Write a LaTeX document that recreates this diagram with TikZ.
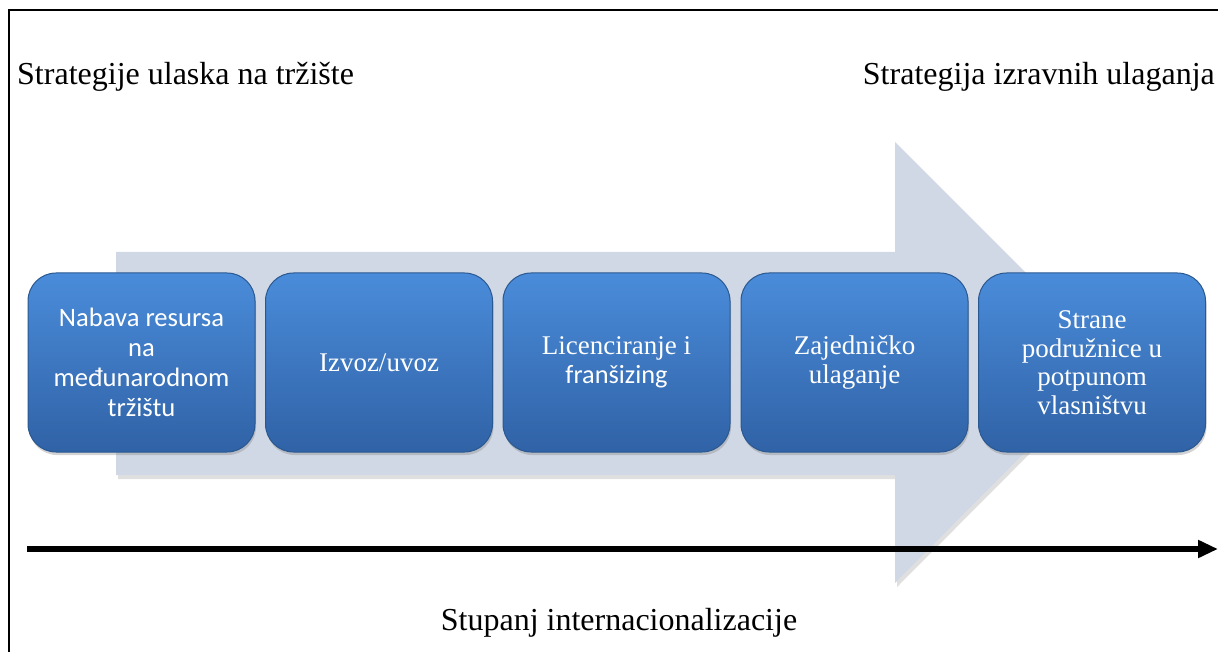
\documentclass[tikz,border=0pt]{standalone}
\usepackage{fontspec}
\setmainfont{Liberation Serif}
\newfontfamily\calfont{Carlito}
\usetikzlibrary{arrows.meta,shadows}
\definecolor{boxtop}{HTML}{4A8CDA}
\definecolor{boxbot}{HTML}{3062A6}
\definecolor{boxline}{HTML}{2A5890}
\definecolor{arrowfill}{HTML}{D0D8E6}
\tikzset{
  stage/.style={draw=boxline, line width=1pt, rounded corners=28pt,
    top color=boxtop, bottom color=boxbot, text=white, align=center,
    minimum width=227pt, minimum height=179pt, inner sep=2pt,
    drop shadow={opacity=0.35, shadow xshift=1pt, shadow yshift=-3pt}},
  sertext/.style={font=\fontsize{27}{28.5}\selectfont},
  santext/.style={font=\calfont\fontsize{26.6}{30}\selectfont},
  heading/.style={font=\fontsize{32}{36}\selectfont, inner sep=0pt}
}
\begin{document}
\begin{tikzpicture}[x=1pt,y=-1pt]
\useasboundingbox (0,0) rectangle (1218,652);
% frame
\draw[line width=2.5pt] (9,652) -- (9,10) -- (1218,10);
% big background arrow
\fill[black!25, opacity=0.5] (118,256) -- (897,256) -- (897,146) -- (1117,366) -- (897,587) -- (897,479) -- (118,479) -- cycle;
\fill[arrowfill] (116,252) -- (895,252) -- (895,142) -- (1115,362) -- (895,583) -- (895,475) -- (116,475) -- cycle;
% headings
\node[heading, anchor=base west] (hl) at (17,85) {Strategije ulaska na tržište};
\node[heading, anchor=base east] (hr) at (1215,85) {Strategija izravnih ulaganja};
% stages
\node[stage, santext] (s1) at (141.5,362.5) {Nabava resursa\\na\\međunarodnom\\tržištu};
\node[stage, sertext] (s2) at (379,362.5) {Izvoz/uvoz};
\node[stage, sertext] (s3) at (616.5,362.5) {Licenciranje i\\{\calfont\fontsize{26.3}{29}\selectfont franšizing}};
\node[stage, sertext] (s4) at (854.5,362.5) {Zajedničko\\ulaganje};
\node[stage, sertext] (s5) at (1092,362.5) {Strane\\podružnice u\\potpunom\\vlasništvu};
% axis
\coordinate (axl) at (27,549);
\coordinate (axr) at (1218,549);
\draw[line width=6pt, -{Triangle[length=20pt,width=17pt]}] (axl) -- (axr);
\node[heading, anchor=base] (ax) at (619,630) {Stupanj internacionalizacije};
\end{tikzpicture}
\end{document}
